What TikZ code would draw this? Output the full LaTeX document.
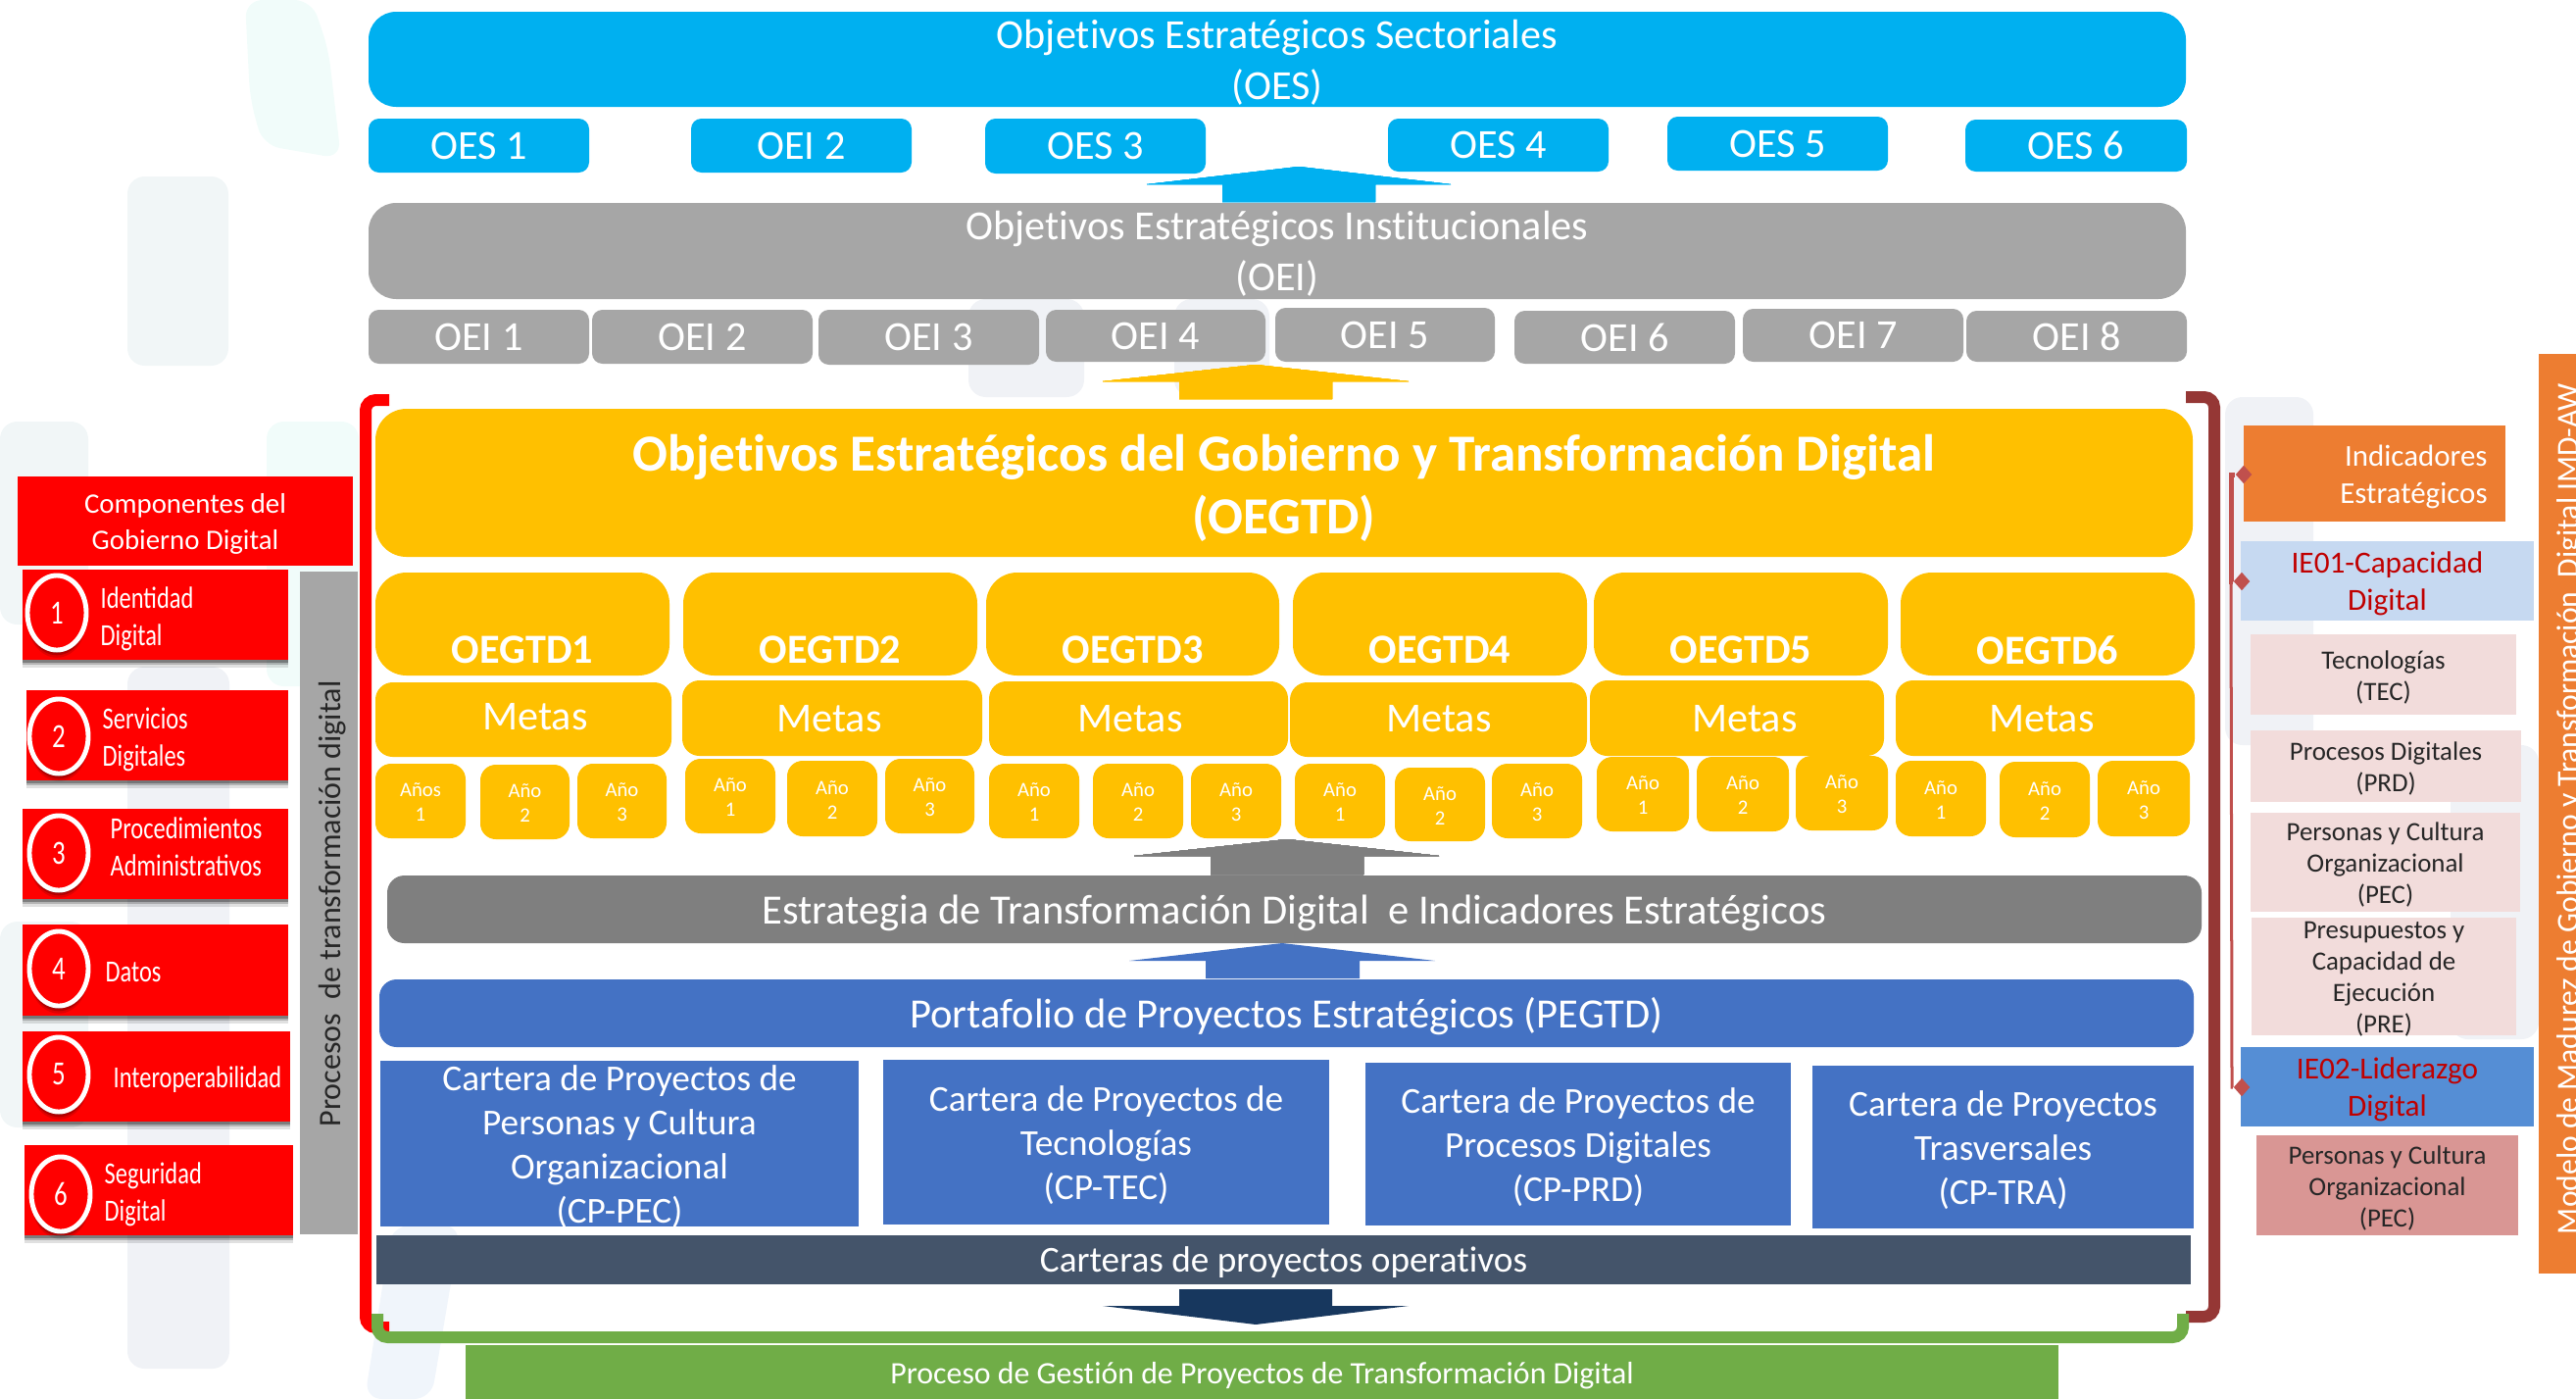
\documentclass[tikz,border=0pt]{standalone}
\usepackage{fontspec}
\setmainfont{Carlito}[Ligatures=NoCommon]
\newfontfamily\narrowfont[FakeStretch=0.78]{Carlito}
\usetikzlibrary{calc,shapes.geometric,shadows}
\definecolor{oescolor}{HTML}{00B0F0}
\definecolor{oeicolor}{HTML}{A6A6A6}
\definecolor{oegcolor}{HTML}{FFC000}
\definecolor{estcolor}{HTML}{7F7F7F}
\definecolor{pegcolor}{HTML}{4472C4}
\definecolor{opecolor}{HTML}{44546A}
\definecolor{arrdark}{HTML}{17375E}
\definecolor{grncolor}{HTML}{70AD47}
\definecolor{brkcolor}{HTML}{953735}
\definecolor{indcolor}{HTML}{ED7D31}
\definecolor{ieacolor}{HTML}{C6D9F1}
\definecolor{iebcolor}{HTML}{558ED5}
\definecolor{iertext}{HTML}{C00000}
\definecolor{pnkcolor}{HTML}{F2DCDB}
\definecolor{pnkdark}{HTML}{D99694}
\definecolor{dmdcolor}{HTML}{C0504D}
\definecolor{bgteal}{HTML}{F1FCFA}
\definecolor{bggrey}{HTML}{F1F6F7}
\definecolor{bgpale}{HTML}{F0F2F6}
\definecolor{bgblue}{HTML}{F0F5FB}
\tikzset{
  panel/.style={inner sep=0pt,outer sep=0pt,align=center,text=white},
  oesbox/.style={panel,fill=oescolor,rounded corners=8pt,font=\fontsize{12}{14.8}\selectfont},
  oeibox/.style={panel,fill=oeicolor,rounded corners=8pt,font=\fontsize{12}{14.8}\selectfont},
  oesitem/.style={oesbox,rounded corners=3pt},
  oeiitem/.style={oeibox,rounded corners=3pt},
  oegbox/.style={panel,fill=oegcolor,rounded corners=9pt},
  metabox/.style={oegbox,rounded corners=5pt},
  anobox/.style={oegbox,rounded corners=4.5pt,font=\fontsize{5.9}{7.1}\selectfont},
  cartbox/.style={panel,fill=pegcolor,font=\fontsize{10.6}{12.8}\selectfont},
  soft shadow/.style={
    drop shadow={shadow xshift=0pt,shadow yshift=-2.2pt,opacity=.12,fill=black},
    drop shadow={shadow xshift=0pt,shadow yshift=-1.5pt,opacity=.2,fill=black},
    drop shadow={shadow xshift=0pt,shadow yshift=-.8pt,opacity=.3,fill=black}},
  compitem/.style={panel,fill=red,soft shadow},
  compnum/.style={panel,ellipse,fill=red,draw=white,line width=1.4pt,minimum width=0.6cm,minimum height=0.76cm,
    soft shadow,font=\narrowfont\fontsize{9.8}{11}\selectfont},
  complabel/.style={inner sep=0pt,align=left,anchor=west,text=white,font=\narrowfont\fontsize{8.9}{10.8}\selectfont},
  pnkbox/.style={panel,fill=pnkcolor,text=black!85,font=\fontsize{7.65}{9.1}\selectfont},
  iebox/.style={panel,text=iertext,font=\fontsize{8.9}{10.8}\selectfont},
  dmd/.style={diamond,fill=dmdcolor,inner sep=0pt,minimum width=0.17cm,minimum height=0.19cm},
  mark bg/.style={fill=#1,rounded corners=5pt}
}
% box given by its corners in pixels of the sheet
\newcommand{\pbox}[6]{\node[#1,minimum width={(#5-#3)*0.01cm},minimum height={(#6-#4)*0.01cm}] (#2) at ({(#3+#5)/2},{(#4+#6)/2}) {};}
% the same box with its text, lowered by the optional number of pixels
\newcommand{\tbox}[8][3]{\pbox{#2}{#3}{#4}{#5}{#6}{#7}\node[#2,fill=none] (#3t) at ($(#3)+(0,#1)$) {#8};}
\begin{document}
\begin{tikzpicture}[x=0.01cm,y=-0.01cm]
  \useasboundingbox (0,0) rectangle (2628,1427);

  % Pale marks behind everything
  \fill[mark bg=bgteal] (250,0) -- (318,0) -- (335,50) -- (348,162) -- (268,148) -- (255,100) -- cycle;
  \fill[mark bg=bggrey] (130,180) rectangle (233,373);
  \fill[mark bg=bggrey] (0,430) rectangle (90,637);
  \fill[mark bg=bgteal] (272,430) rectangle (366,700);
  \fill[mark bg=bgpale] (130,680) rectangle (234,1396);
  \fill[mark bg=bggrey] (0,940) rectangle (90,1150);
  \fill[mark bg=bgblue] (400,1250) -- (470,1250) -- (440,1427) -- (372,1427) -- cycle;
  \fill[mark bg=bgpale] (988,305) rectangle (1106,405);
  \fill[mark bg=bgpale] (1198,305) rectangle (1295,405);
  \fill[mark bg=bgpale] (2270,405) rectangle (2360,760);
  \fill[mark bg=bgpale] (2500,760) rectangle (2590,1060);

  % Sector objectives
  \tbox{oesbox}{oes}{376}{12}{2230}{109}{Objetivos Estratégicos Sectoriales\\(OES)}
  \foreach \n/\xa/\xb/\ya/\yb/\lab in {1/376/601/121/176/OES 1,2/705/930/121/176/OEI 2,3/1005/1230/121/177/OES 3,
      4/1416/1641/121/175/OES 4,5/1701/1926/119/174/OES 5,6/2005/2231/122/175/OES 6}
    \tbox[0]{oesitem}{oes\n}{\xa}{\ya}{\xb}{\yb}{\lab}
  \fill[oescolor] (1325,170) -- (1480,188) -- (1403,188) -- (1403,206) -- (1247,206) -- (1247,188) -- (1170,188) -- cycle;

  % Institutional objectives
  \tbox{oeibox}{oei}{376}{207}{2230}{305}{Objetivos Estratégicos Institucionales\\(OEI)}
  \foreach \n/\xa/\xb/\ya/\yb in {1/376/601/316/371,2/604/829/316/371,3/835/1060/316/372,4/1067/1291/316/369,
      5/1301/1525/314/369,6/1545/1770/317/371,7/1778/2003/315/369,8/2006/2231/317/369}
    \tbox[0]{oeiitem}{oei\n}{\xa}{\ya}{\xb}{\yb}{OEI \n}
  \fill[oegcolor] (1281,372) -- (1437,389) -- (1359,389) -- (1359,407) -- (1203,407) -- (1203,389) -- (1125,389) -- cycle;

  % Brackets
  \draw[red,line width=0.12cm,rounded corners=3pt] (397,408) -- (373,408) -- (373,1354) -- (397,1354);
  \draw[brkcolor,line width=0.12cm,rounded corners=3pt] (2230,405) -- (2259,405) -- (2259,1343) -- (2230,1343);
  \draw[grncolor,line width=0.12cm,rounded corners=3pt] (385,1340) -- (385,1364) -- (2227,1364) -- (2227,1340);

  % Digital government objectives
  \tbox[5]{oegbox,font=\bfseries\fontsize{15.1}{18.2}\selectfont}{oeg}{383}{417}{2237}{568}{Objetivos Estratégicos del Gobierno y Transformación Digital\\(OEGTD)}
  \foreach \n/\xa/\xb in {1/383/683,2/697/997,3/1006/1305,4/1319/1619,5/1626/1926,6/1939/2239}{
    \pbox{oegbox}{oeg\n}{\xa}{584}{\xb}{689}
    \node[panel,font=\bfseries\fontsize{12}{14}\selectfont] (oegt\n) at ($(oeg\n.south)+(0,-26)$) {OEGTD\n};
  }
  \foreach \n/\xa/\xb/\ya/\yb/\tx/\ty in {1/383/685/696/772/546/731,2/696/1002/694/771/846/733,3/1009/1314/695/771/1153/733,
      4/1316/1619/696/772/1468/733,5/1622/1922/694/771/1780/733,6/1934/2239/694/771/2083/733}{
    \pbox{metabox}{meta\n}{\xa}{\ya}{\xb}{\yb}
    \node[panel,font=\fontsize{12}{14}\selectfont] (metat\n) at (\tx,\ty) {Metas};
  }
  \foreach \n/\xa/\xb/\ya/\yb/\lab/\num in {a1/383/475/779/855/Años/1,a2/490/581/780/856/Año/2,a3/589/680/779/855/Año/3,
      b1/699/791/774/850/Año/1,b2/803/895/776/853/Año/2,b3/903/994/774/850/Año/3,
      c1/1009/1101/779/855/Año/1,c2/1115/1207/779/855/Año/2,c3/1215/1307/779/855/Año/3,
      d1/1321/1413/779/855/Año/1,d2/1423/1515/783/858/Año/2,d3/1522/1614/779/855/Año/3,
      e1/1629/1723/772/848/Año/1,e2/1731/1825/772/848/Año/2,e3/1832/1926/771/847/Año/3,
      f1/1934/2026/776/853/Año/1,f2/2040/2132/777/854/Año/2,f3/2140/2234/776/853/Año/3}
    \tbox[1.5]{anobox}{ano\n}{\xa}{\ya}{\xb}{\yb}{\lab\\\num}
  \fill[estcolor] (1313,856) -- (1468,873) -- (1391,873) -- (1391,892) -- (1235,892) -- (1235,873) -- (1157,873) -- cycle;

  % Strategy and portfolio
  \tbox[4]{panel,fill=estcolor,rounded corners=5pt,font=\fontsize{12.1}{14}\selectfont}{est}{395}{893}{2246}{962}{Estrategia de Transformación Digital~~e Indicadores Estratégicos}
  \fill[pegcolor] (1308,962) -- (1464,980) -- (1387,980) -- (1387,998) -- (1230,998) -- (1230,980) -- (1152,980) -- cycle;
  \tbox{panel,fill=pegcolor,rounded corners=5pt,font=\fontsize{12.1}{14}\selectfont}{peg}{387}{999}{2238}{1068}{Portafolio de Proyectos Estratégicos (PEGTD)}
  \tbox{cartbox}{cartA}{388}{1082}{876}{1251}{Cartera de Proyectos de\\Personas y Cultura\\Organizacional\\(CP-PEC)}
  \tbox{cartbox}{cartB}{901}{1081}{1356}{1249}{Cartera de Proyectos de\\Tecnologías\\(CP-TEC)}
  \tbox{cartbox}{cartC}{1393}{1084}{1827}{1250}{Cartera de Proyectos de\\Procesos Digitales\\(CP-PRD)}
  \tbox{cartbox}{cartD}{1849}{1087}{2238}{1253}{Cartera de Proyectos\\Trasversales\\(CP-TRA)}
  \tbox{panel,fill=opecolor,font=\fontsize{10.6}{12}\selectfont}{ope}{384}{1260}{2235}{1310}{Carteras de proyectos operativos}
  \fill[arrdark] (1281,1351) -- (1437,1332) -- (1359,1332) -- (1359,1315) -- (1203,1315) -- (1203,1332) -- (1125,1332) -- cycle;
  \tbox[4]{panel,fill=grncolor,font=\fontsize{9.05}{11}\selectfont}{gest}{475}{1372}{2100}{1427}{Proceso de Gestión de Proyectos de Transformación Digital}

  % Components on the left
  \tbox{panel,fill=red,font=\fontsize{8.2}{10.4}\selectfont}{comp}{18}{486}{360}{577}{Componentes del\\Gobierno Digital}
  \foreach \n/\xa/\xb/\ya/\yb/\cx/\cy/\tx/\ty/\lab in {
      1/23/294/581/673/58/625/102/631/{Identidad\\Digital},
      2/27/294/704/796/60/751/104/754/{Servicios\\Digitales},
      3/23/294/825/917/60/870/112/864/{Procedimientos\\Administrativos},
      4/23/294/943/1036/60/988/107/992/{Datos},
      5/23/296/1052/1144/60/1096/115/1101/{Interoperabilidad},
      6/25/299/1168/1260/62/1218/106/1218/{Seguridad\\Digital}}{
    \pbox{compitem}{item\n}{\xa}{\ya}{\xb}{\yb}
    \node[compnum] (num\n) at (\cx,\cy) {\n};
    \node[complabel] (txt\n) at (\tx,\ty) {\lab};
  }
  \pbox{panel,fill=oeicolor}{proc}{306}{583}{365}{1259}
  \node[panel,anchor=base,rotate=90,text=black!85,font=\fontsize{9.1}{11}\selectfont] (proctxt) at (347,922) {Procesos~~de transformación digital};

  % Indicators on the right
  \tbox{panel,fill=indcolor,align=right,font=\fontsize{8.8}{10.8}\selectfont,text width=2.30cm}{ind}{2289}{434}{2556}{532}{Indicadores\\Estratégicos}
  \tbox{iebox,fill=ieacolor}{iea}{2286}{552}{2585}{633}{IE01-Capacidad\\Digital}
  \tbox{pnkbox}{tec}{2296}{647}{2567}{729}{Tecnologías\\(TEC)}
  \tbox{pnkbox}{prd}{2296}{745}{2572}{818}{Procesos Digitales\\(PRD)}
  \tbox{pnkbox}{pec}{2296}{829}{2571}{930}{Personas y Cultura\\Organizacional\\(PEC)}
  \tbox{pnkbox}{pre}{2297}{936}{2567}{1056}{Presupuestos y\\Capacidad de\\Ejecución\\(PRE)}
  \tbox{iebox,fill=iebcolor}{ieb}{2286}{1068}{2585}{1149}{IE02-Liderazgo\\Digital}
  \tbox{pnkbox,fill=pnkdark}{pecb}{2302}{1158}{2569}{1260}{Personas y Cultura\\Organizacional\\(PEC)}

  % Connectors of the indicators
  \coordinate (busA) at (2276,484);
  \coordinate (busB) at (2276,593);
  \coordinate (busC) at (2277,1109);
  \node[dmd] (dmdA) at (2289,484) {};
  \node[dmd] (dmdB) at (2287,593) {};
  \node[dmd] (dmdC) at (2287,1109) {};
  \draw[dmdcolor,line width=0.05cm] (dmdA) -- (busA) -- (busB) -- (dmdB);
  \draw[dmdcolor,line width=0.03cm] (busB) -- (busC) -- (dmdC);

  \pbox{panel,fill=indcolor}{mod}{2590}{361}{2628}{1299}
  \node[panel,anchor=base,rotate=90,font=\fontsize{9}{11}\selectfont] (modtxt) at (2630,825) {Modelo de Madurez de Gobierno y Transformación~~Digital IMD-AW};
\end{tikzpicture}
\end{document}
